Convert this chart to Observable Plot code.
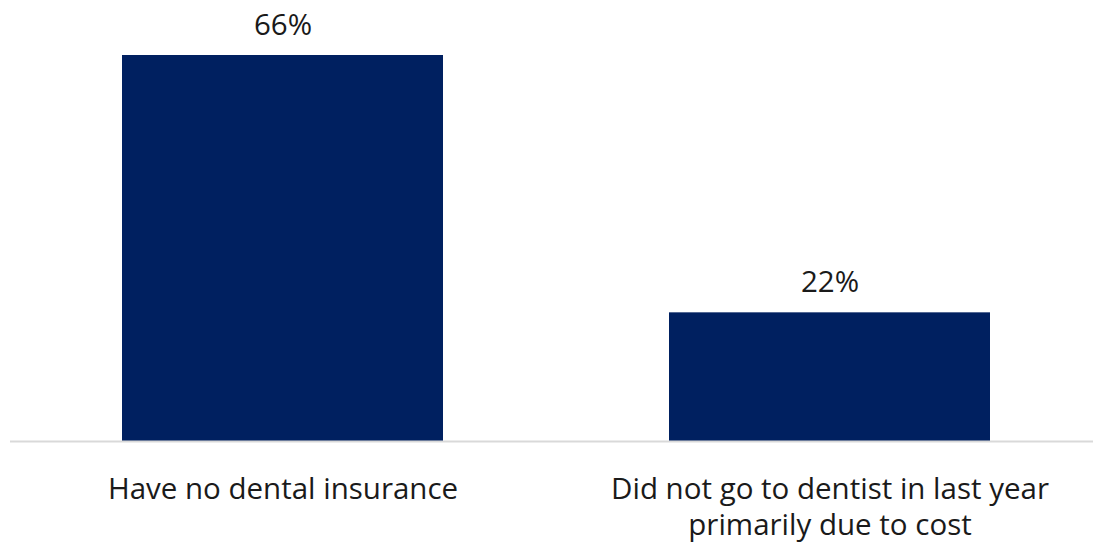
<!DOCTYPE html>
<html>
<head>
<meta charset="utf-8">
<script src="https://cdn.jsdelivr.net/npm/d3@7"></script>
<script src="https://cdn.jsdelivr.net/npm/@observablehq/plot@0.6"></script>
<style>
  html, body { margin: 0; padding: 0; background: #fff; }
  #chart svg { display: block; }
</style>
</head>
<body>
<div id="chart"></div>
<script>
const categories = ["Have no dental insurance", "Did not go to dentist in last year\nprimarily due to cost"];
const values = [66, 22];
const valueLabels = ["66%", "22%"];

const data = categories.map((c, i) => ({category: c, value: values[i], label: valueLabels[i]}));

const chart = Plot.plot({
  width: 1093,
  height: 542,
  marginTop: 55,
  marginBottom: 101,
  marginLeft: 10,
  marginRight: 0,
  style: {fontFamily: "'Open Sans', sans-serif", fontSize: "29.5px", color: "#1a1a1a", background: "#fff"},
  x: {domain: categories, range: [19, 1093], paddingInner: 0.4132, paddingOuter: 0.1883, label: null},
  y: {domain: [0, 66], axis: null},
  marks: [
    Plot.barY(data, {x: "category", y: "value", fill: "#002060"}),
    Plot.ruleY([0], {stroke: "#d9d9d9", strokeWidth: 2}),
    Plot.text(data, {x: "category", y: "value", text: "label", lineAnchor: "bottom", dy: -21, fontSize: 29.5, fill: "#1a1a1a"}),
    Plot.axisX({tickSize: 0, tickPadding: 32, fontSize: 29.5, lineHeight: 1.22, fill: "#1a1a1a"})
  ]
});
document.getElementById("chart").appendChild(chart);
</script>
</body>
</html>
